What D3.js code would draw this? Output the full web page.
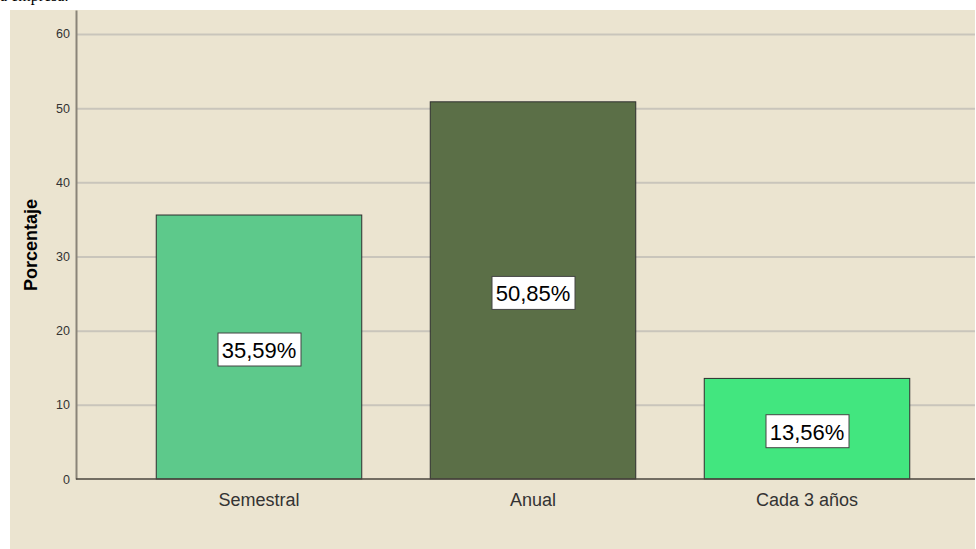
<!DOCTYPE html>
<meta charset="utf-8">
<head>
<script src="https://d3js.org/d3.v7.min.js"></script>
<style>
  body { margin: 0; background: #fff; }
  svg text { font-family: Arial, "Liberation Sans", sans-serif; }
</style>
</head>
<body>
<div id="chart"></div>
<script>

// data
var categories = ["Semestral", "Anual", "Cada 3 años"];
var values = [35.59, 50.85, 13.56];
var labels = ["35,59%", "50,85%", "13,56%"];
var colors = ["#5dc98b", "#5b6f47", "#42e67f"];
var yTicks = [0, 10, 20, 30, 40, 50, 60];

var W = 976, H = 549;

var svg = d3.select("#chart")
  .append("svg")
    .attr("width", W)
    .attr("height", H);

// cropped caption from the page above the chart
svg.append("text")
  .attr("x", 0)
  .attr("y", 1)
  .style("font-family", "'Liberation Serif', 'Times New Roman', serif")
  .style("font-size", "16px")
  .attr("fill", "#000")
  .text("a empresa.");

// panel background
svg.append("rect")
  .attr("x", 10).attr("y", 10)
  .attr("width", 965).attr("height", 539)
  .attr("fill", "#ebe4d0");

// scales
var y = d3.scaleLinear().domain([0, 63.23]).range([479, 10]);
var x = d3.scaleBand().domain(categories).range([122, 944])
  .paddingInner(0.25).paddingOuter(0.125);

// grid lines
svg.append("g")
  .attr("transform", "translate(76,0)")
  .call(d3.axisLeft(y).tickValues(yTicks.slice(1)).tickSize(-899).tickFormat(""))
  .call(function(g) {
    g.select(".domain").remove();
    g.selectAll("line").attr("stroke", "#c9c5bb").attr("stroke-width", 2);
  });

// bars
svg.append("g").selectAll("rect")
  .data(values)
  .enter().append("rect")
    .attr("x", function(d, i) { return x(categories[i]); })
    .attr("y", function(d) { return y(d); })
    .attr("width", x.bandwidth())
    .attr("height", function(d) { return y(0) - y(d); })
    .attr("fill", function(d, i) { return colors[i]; })
    .attr("stroke", "#2e2e2e")
    .attr("stroke-width", 1);

// y axis
svg.append("g")
  .attr("transform", "translate(76,0)")
  .call(d3.axisLeft(y).tickValues(yTicks).tickSize(0).tickPadding(6))
  .call(function(g) {
    g.select(".domain").attr("stroke", "#8a8478").attr("stroke-width", 2);
    g.selectAll("text").style("font-size", "12.5px").attr("fill", "#333");
  });

// x axis line
svg.append("line")
  .attr("x1", 76).attr("x2", 975)
  .attr("y1", y(0)).attr("y2", y(0))
  .attr("stroke", "#4a463e").attr("stroke-width", 1.5);

// x labels
svg.append("g").selectAll("text")
  .data(categories)
  .enter().append("text")
    .attr("x", function(d) { return x(d) + x.bandwidth() / 2; })
    .attr("y", 506)
    .attr("text-anchor", "middle")
    .style("font-size", "18px")
    .attr("fill", "#333")
    .text(function(d) { return d; });

// y title
svg.append("text")
  .attr("transform", "translate(37,245) rotate(-90)")
  .attr("text-anchor", "middle")
  .style("font-size", "18px")
  .style("font-weight", "bold")
  .attr("fill", "#000")
  .text("Porcentaje");

// value labels in boxes
var lab = svg.append("g").selectAll("g")
  .data(values)
  .enter().append("g")
    .attr("transform", function(d, i) {
      return "translate(" + (x(categories[i]) + x.bandwidth() / 2) + "," + ((y(d) + y(0)) / 2 + 3) + ")";
    });

lab.append("rect")
  .attr("x", -41).attr("y", -17)
  .attr("width", 83).attr("height", 33)
  .attr("fill", "#fff")
  .attr("stroke", "#444")
  .attr("stroke-width", 1);

lab.append("text")
  .attr("text-anchor", "middle")
  .attr("dy", "0.36em")
  .style("font-size", "22px")
  .attr("fill", "#000")
  .text(function(d, i) { return labels[i]; });

</script>
</body>
</html>
